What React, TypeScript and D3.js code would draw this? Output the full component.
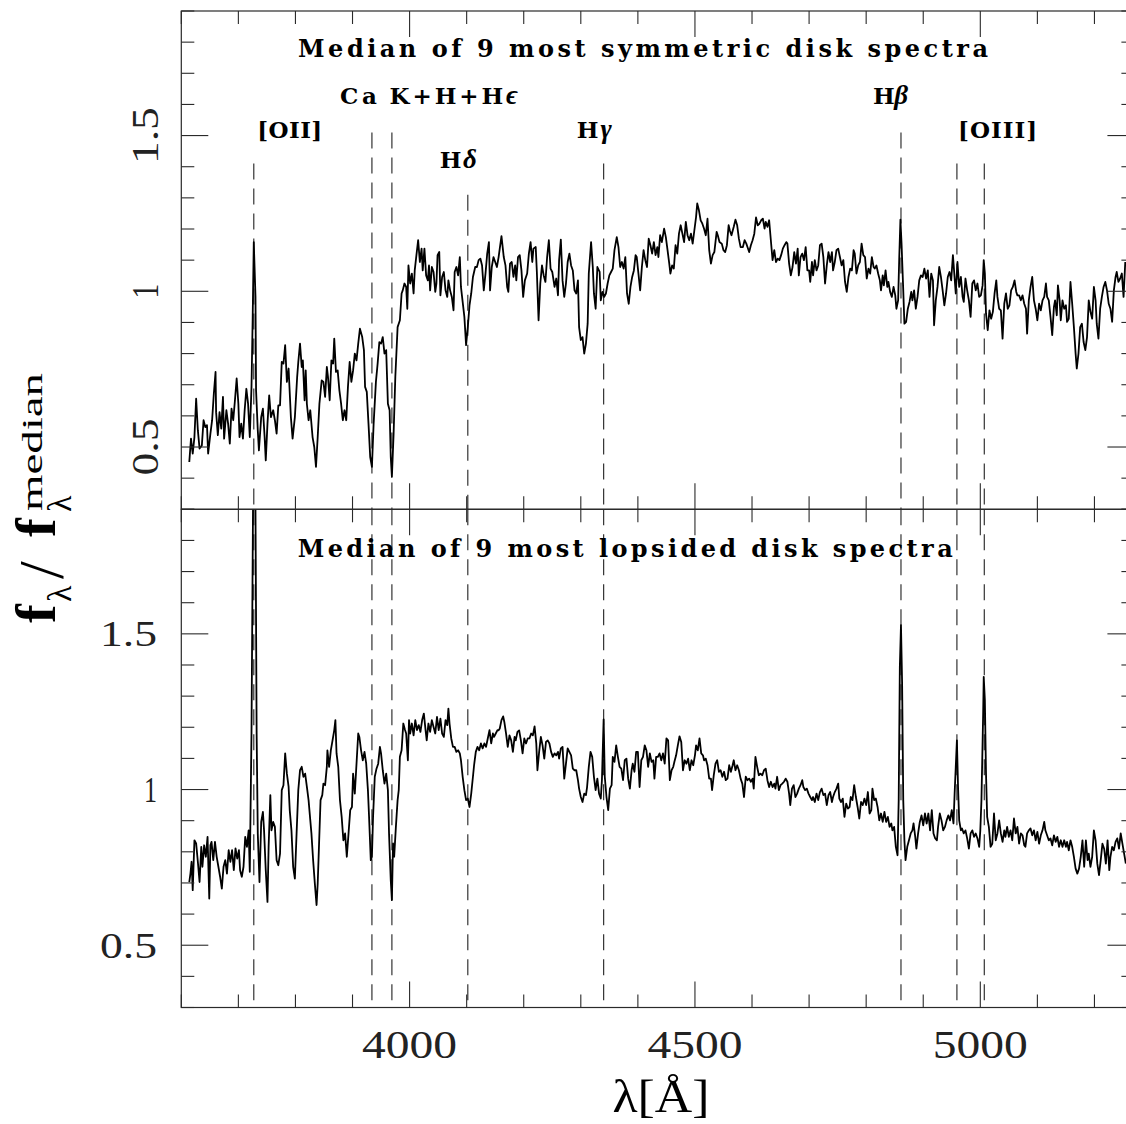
import React from 'react';
import * as d3 from 'd3';

// ---------- data (wavelength in Å, normalised flux) ----------
const symmetricSpectrum: [number, number][] = [
  [3614,0.452],[3617,0.527],[3620,0.479],[3623,0.532],[3626,0.655],[3629,0.554],[3632,0.495],[3636,0.505],
  [3639,0.586],[3642,0.564],[3645,0.570],[3647,0.479],[3651,0.543],[3654,0.586],[3657,0.671],[3660,0.741],
  [3661,0.612],[3664,0.538],[3667,0.612],[3670,0.559],[3673,0.661],[3675,0.527],[3679,0.618],[3682,0.575],
  [3685,0.511],[3688,0.623],[3691,0.586],[3694,0.650],[3697,0.720],[3700,0.639],[3702,0.532],[3705,0.575],
  [3708,0.527],[3711,0.618],[3714,0.687],[3717,0.639],[3720,0.532],[3723,0.693],[3725,0.907],[3727,1.158],
  [3730,0.982],[3731,0.682],[3734,0.554],[3736,0.489],[3740,0.596],[3743,0.623],[3746,0.532],[3748,0.457],
  [3751,0.575],[3754,0.666],[3757,0.596],[3761,0.618],[3764,0.586],[3767,0.543],[3770,0.634],[3773,0.634],
  [3776,0.773],[3779,0.768],[3782,0.827],[3785,0.709],[3788,0.752],[3792,0.596],[3795,0.527],[3799,0.596],
  [3803,0.725],[3805,0.773],[3808,0.832],[3811,0.757],[3813,0.778],[3816,0.650],[3818,0.746],[3820,0.639],
  [3823,0.586],[3826,0.618],[3830,0.532],[3833,0.500],[3836,0.436],[3839,0.532],[3842,0.639],[3846,0.714],
  [3849,0.709],[3852,0.661],[3855,0.757],[3857,0.725],[3860,0.650],[3863,0.778],[3866,0.768],[3868,0.848],
  [3871,0.741],[3874,0.746],[3877,0.682],[3880,0.639],[3883,0.586],[3886,0.618],[3889,0.586],[3892,0.693],
  [3895,0.773],[3898,0.709],[3901,0.746],[3904,0.800],[3907,0.778],[3910,0.832],[3913,0.880],[3917,0.853],
  [3920,0.811],[3922,0.693],[3925,0.677],[3928,0.575],[3931,0.468],[3934,0.436],[3937,0.575],[3941,0.709],
  [3944,0.768],[3947,0.837],[3950,0.832],[3953,0.853],[3956,0.800],[3959,0.811],[3962,0.639],[3965,0.618],
  [3967,0.468],[3969,0.404],[3972,0.543],[3975,0.725],[3979,0.885],[3983,0.907],[3986,0.993],[3988,1.003],
  [3991,1.025],[3994,1.014],[3996,0.944],[3998,1.083],[4001,1.025],[4004,1.057],[4007,0.993],[4009,1.067],
  [4012,1.116],[4015,1.164],[4018,1.094],[4021,1.137],[4023,1.067],[4026,1.137],[4029,1.051],[4032,1.035],
  [4034,1.083],[4036,1.003],[4039,1.078],[4042,1.062],[4045,0.998],[4047,1.025],[4049,1.116],[4052,1.126],
  [4054,0.987],[4057,1.046],[4060,1.062],[4063,1.003],[4066,0.982],[4068,1.035],[4071,1.003],[4074,0.982],
  [4077,0.939],[4079,1.062],[4082,1.078],[4085,1.051],[4088,1.110],[4090,1.014],[4093,0.966],[4096,0.918],
  [4099,0.827],[4102,0.885],[4105,0.955],[4108,0.993],[4111,1.046],[4115,1.078],[4118,1.078],[4121,1.100],
  [4124,1.105],[4127,1.083],[4130,1.003],[4133,1.057],[4136,1.121],[4139,1.158],[4141,1.003],[4144,1.078],
  [4147,1.110],[4150,1.094],[4153,1.078],[4156,1.110],
  [4158,1.137],[4161,1.177],[4165,1.110],[4168,1.083],[4171,1.014],[4173,0.998],[4176,1.089],[4179,1.094],
  [4182,1.046],[4185,1.083],[4187,1.035],[4190,1.110],[4193,1.116],[4196,1.067],[4199,0.982],[4202,1.035],
  [4206,1.057],[4209,1.121],[4212,1.158],[4215,1.094],[4217,1.137],[4221,1.142],[4223,1.062],[4226,0.907],
  [4229,1.025],[4232,1.083],[4235,1.051],[4238,1.030],[4241,1.110],[4244,1.164],[4247,1.073],[4250,1.062],
  [4254,1.014],[4257,1.041],[4260,0.987],[4262,1.100],[4265,1.166],[4268,1.035],[4271,0.982],[4274,1.025],
  [4277,1.094],[4280,1.121],[4283,1.083],[4286,1.067],[4289,1.003],[4292,0.993],[4295,1.035],[4297,0.885],
  [4300,0.843],[4303,0.853],[4306,0.800],[4309,0.832],[4312,0.896],[4314,1.057],[4318,1.158],[4321,1.078],
  [4323,0.993],[4326,0.944],[4329,1.078],[4333,1.062],[4335,0.971],[4338,0.998],[4341,0.982],[4344,0.993],
  [4347,1.025],[4350,1.051],[4353,1.062],[4356,1.073],[4359,1.132],[4363,1.174],[4366,1.142],[4369,1.078],
  [4372,1.094],[4375,1.073],[4378,1.110],[4381,0.993],[4384,0.960],[4387,1.014],[4390,1.046],[4393,1.067],
  [4396,1.116],[4398,1.110],[4401,1.057],[4404,1.003],[4407,1.078],[4410,1.132],[4413,1.100],[4416,1.078],
  [4419,1.169],[4422,1.148],[4425,1.121],[4428,1.158],[4431,1.116],[4434,1.142],[4436,1.110],[4439,1.180],
  [4442,1.158],[4446,1.201],[4449,1.174],[4452,1.132],[4455,1.089],[4457,1.057],[4460,1.083],[4463,1.073],
  [4466,1.148],[4469,1.121],[4472,1.185],[4475,1.212],[4478,1.185],[4481,1.158],[4484,1.223],[4487,1.180],
  [4490,1.164],[4493,1.185],[4496,1.153],[4499,1.196],[4502,1.239],[4504,1.282],[4507,1.260],[4510,1.228],
  [4513,1.217],[4516,1.201],[4519,1.180],[4522,1.233],[4525,1.132],[4528,1.089],[4531,1.116],[4534,1.126],
  [4538,1.191],[4540,1.180],[4543,1.158],[4547,1.153],[4550,1.132],[4553,1.126],[4556,1.148],[4559,1.212],
  [4561,1.196],[4564,1.180],[4568,1.207],[4571,1.230],[4574,1.212],[4577,1.169],[4580,1.142],[4584,1.142],
  [4587,1.164],[4590,1.153],[4592,1.142],[4595,1.126],[4598,1.148],[4601,1.164],[4604,1.185],[4607,1.237],
  [4610,1.212],[4613,1.217],[4616,1.228],[4619,1.233],[4622,1.201],[4624,1.223],[4627,1.207],[4630,1.228],
  [4633,1.164],[4636,1.100],[4639,1.132],[4642,1.094],[4645,1.105],[4648,1.100],[4651,1.116],[4654,1.137],
  [4657,1.148],[4660,1.158],[4662,1.153],[4665,1.089],[4668,1.051],[4671,1.078],[4674,1.126],[4677,1.089],
  [4680,1.137],[4682,1.051],[4685,1.110],[4688,1.121],[4691,1.100],[4694,1.142],[4697,1.067],[4700,1.067],
  [4702,1.030],[4705,1.094],
  [4707,1.051],[4710,1.100],[4713,1.067],[4716,1.083],[4719,1.148],[4722,1.153],[4725,1.110],[4728,1.025],
  [4731,1.083],[4734,1.126],[4737,1.094],[4740,1.126],[4742,1.067],[4745,1.094],[4748,1.132],[4751,1.137],
  [4754,1.110],[4757,1.083],[4760,1.100],[4763,1.030],[4766,0.998],[4769,1.046],[4772,1.073],[4775,1.067],
  [4778,1.132],[4780,1.121],[4783,1.057],[4786,1.083],[4789,1.094],[4792,1.153],[4795,1.116],[4798,1.110],
  [4801,1.041],[4804,1.073],[4807,1.057],[4810,1.110],[4813,1.078],[4815,1.073],[4818,1.083],[4821,1.057],
  [4824,1.035],[4826,1.003],[4829,1.051],[4831,1.019],[4834,1.067],[4837,1.014],[4839,1.030],[4842,0.998],
  [4845,0.982],[4848,1.014],[4851,0.987],[4853,0.944],[4856,0.971],[4858,1.110],[4860,1.230],[4862,1.153],
  [4865,1.003],[4867,0.896],[4870,0.902],[4873,0.944],[4876,0.966],[4879,0.998],[4881,0.971],[4884,1.003],
  [4887,0.944],[4890,0.982],[4893,1.035],[4896,1.051],[4899,1.046],[4902,1.073],[4905,1.041],[4908,1.067],
  [4911,0.982],[4914,1.057],[4917,1.035],[4919,0.891],[4922,0.971],[4925,1.014],[4928,1.078],[4931,1.046],
  [4934,1.003],[4937,0.955],[4940,0.993],[4943,1.046],[4946,1.062],[4949,1.035],[4952,1.116],[4954,1.067],
  [4957,0.993],[4960,1.094],[4963,1.014],[4966,1.046],[4969,0.982],[4971,0.966],[4974,1.041],[4977,1.003],
  [4980,0.971],[4983,0.918],[4986,1.025],[4989,1.035],[4992,1.003],[4995,1.025],[4998,0.982],[5001,0.987],
  [5004,1.019],[5006,1.100],[5008,1.057],[5010,0.928],[5013,0.875],[5016,0.939],[5019,0.912],[5022,0.934],
  [5025,0.993],[5028,1.035],[5030,0.982],[5033,0.944],[5036,0.939],[5039,0.848],[5042,0.960],[5045,0.993],
  [5048,0.944],[5051,0.955],[5054,1.003],[5057,1.014],[5060,1.035],[5063,0.998],[5065,0.987],[5068,0.987],
  [5071,0.971],[5074,0.987],[5077,0.960],[5080,0.944],[5082,0.864],[5085,0.971],[5088,1.014],[5091,1.046],
  [5094,0.971],[5097,0.944],[5100,0.907],[5103,0.960],[5106,0.939],[5109,0.971],[5112,0.982],[5115,1.025],
  [5117,0.982],[5120,0.971],[5123,0.918],[5126,0.859],[5129,0.950],[5131,0.971],[5134,0.923],[5136,1.019],
  [5139,0.971],[5141,0.907],[5144,0.971],[5147,0.944],[5150,0.955],[5152,0.902],[5155,0.912],[5158,1.030],
  [5161,0.960],[5164,0.885],[5167,0.800],[5169,0.752],[5172,0.800],[5175,0.885],[5178,0.896],[5181,0.837],
  [5184,0.811],[5187,0.853],[5190,0.971],[5193,0.934],[5196,0.912],[5199,1.014],[5202,0.971],[5204,0.896],
  [5207,0.848],[5210,0.944],[5213,0.982],[5216,1.014],[5219,1.030],[5222,1.003],[5225,0.960],[5228,0.944],
  [5231,0.902],[5234,1.003],[5237,1.046],[5239,1.062],[5242,1.030],[5245,1.041],[5248,1.057],[5251,0.982],
  [5254,1.094],
];

const lopsidedSpectrum: [number, number][] = [
  [3614,0.703],[3616,0.730],[3618,0.768],[3620,0.677],[3623,0.837],[3626,0.827],[3629,0.768],[3632,0.703],
  [3635,0.816],[3637,0.752],[3640,0.821],[3643,0.784],[3646,0.848],[3649,0.650],[3651,0.821],[3653,0.832],
  [3656,0.773],[3659,0.832],[3662,0.784],[3665,0.752],[3668,0.720],[3671,0.682],[3674,0.752],[3677,0.773],
  [3680,0.730],[3683,0.805],[3686,0.768],[3689,0.805],[3692,0.741],[3695,0.811],[3698,0.778],[3701,0.805],
  [3703,0.741],[3706,0.720],[3709,0.752],[3712,0.848],[3715,0.816],[3718,0.869],[3720,0.736],[3723,1.180],
  [3726,2.000],[3728,2.300],[3730,1.897],[3732,1.180],[3734,0.859],[3737,0.703],[3740,0.896],[3743,0.928],
  [3745,0.869],[3748,0.741],[3751,0.639],[3753,0.816],[3756,0.982],[3758,0.869],[3761,0.896],[3764,0.880],
  [3767,0.773],[3770,0.757],[3773,0.794],[3776,0.998],[3779,1.014],[3782,1.116],[3785,1.051],[3788,1.009],
  [3790,0.934],[3793,0.869],[3796,0.752],[3799,0.714],[3802,0.859],[3805,0.998],[3808,1.062],[3811,1.073],
  [3814,1.041],[3817,1.051],[3820,1.009],[3823,0.966],[3826,0.902],[3828,0.859],[3831,0.773],[3834,0.698],
  [3837,0.629],[3839,0.698],[3841,0.805],[3844,0.966],[3847,0.982],[3849,1.019],[3852,1.014],[3855,1.073],
  [3856,1.126],[3859,1.073],[3862,1.126],[3865,1.158],[3868,1.191],[3870,1.223],[3872,1.116],[3875,1.073],
  [3878,0.966],[3881,0.912],[3884,0.837],[3887,0.859],[3890,0.784],[3893,0.859],[3896,0.934],[3899,0.944],
  [3901,1.051],[3904,0.987],[3907,1.083],[3910,1.180],[3912,1.169],[3915,1.126],[3918,1.094],[3921,1.121],
  [3924,1.083],[3927,0.998],[3929,0.912],[3932,0.773],[3934,0.784],[3936,0.912],[3939,1.041],[3942,1.067],
  [3945,1.083],[3948,1.137],[3950,1.116],[3953,1.062],[3956,1.019],[3959,1.051],[3962,0.998],[3964,0.859],
  [3967,0.709],[3969,0.645],[3971,0.827],[3973,0.784],[3976,0.880],[3979,0.966],[3981,0.998],[3983,1.105],
  [3986,1.126],[3989,1.212],[3992,1.191],[3994,1.180],[3997,1.094],[3999,1.223],[4001,1.180],[4004,1.212],
  [4007,1.174],[4010,1.223],[4013,1.191],[4016,1.207],[4019,1.185],[4022,1.223],[4025,1.244],[4028,1.191],
  [4030,1.158],[4033,1.212],[4036,1.185],[4039,1.223],[4042,1.201],[4045,1.180],[4048,1.233],[4051,1.191],
  [4054,1.228],[4057,1.180],[4060,1.169],[4063,1.223],[4066,1.207],[4068,1.260],[4070,1.212],[4073,1.164],
  [4076,1.137],[4079,1.137],[4082,1.121],[4085,1.126],[4088,1.116],[4090,1.094],[4093,1.041],[4096,0.998],
  [4099,0.966],[4102,0.971],[4105,0.944],[4108,0.987],[4111,1.041],[4113,1.078],[4116,1.121],[4119,1.137],
  [4122,1.126],[4125,1.148],[4128,1.132],[4131,1.148],[4134,1.137],[4137,1.164],[4140,1.191],[4143,1.148],
  [4146,1.180],[4148,1.169],[4151,1.180],[4154,1.191],
  [4156,1.190],[4158,1.196],[4161,1.223],[4164,1.235],[4166,1.217],[4169,1.180],[4172,1.137],[4175,1.174],
  [4178,1.158],[4181,1.121],[4184,1.169],[4186,1.158],[4189,1.185],[4192,1.190],[4195,1.158],[4198,1.116],
  [4201,1.164],[4204,1.148],[4207,1.164],[4210,1.164],[4213,1.180],[4216,1.174],[4219,1.203],[4222,1.148],
  [4224,1.062],[4227,1.121],[4230,1.169],[4233,1.142],[4236,1.099],[4239,1.153],[4242,1.158],[4245,1.148],
  [4248,1.121],[4251,1.105],[4254,1.116],[4257,1.110],[4260,1.121],[4262,1.099],[4265,1.132],[4268,1.137],
  [4271,1.035],[4274,1.083],[4277,1.132],[4280,1.121],[4283,1.110],[4286,1.067],[4289,1.062],[4292,1.062],
  [4295,1.030],[4297,1.003],[4300,0.976],[4303,0.960],[4306,0.987],[4309,0.982],[4311,1.008],[4314,1.073],
  [4317,1.121],[4320,1.105],[4323,1.041],[4326,0.998],[4329,1.035],[4332,0.987],[4335,0.971],[4337,1.030],
  [4340,1.225],[4342,1.041],[4345,0.976],[4348,0.934],[4351,1.003],[4354,1.014],[4356,1.105],[4359,1.089],
  [4362,1.142],[4365,1.105],[4368,1.073],[4371,1.067],[4374,1.030],[4377,1.094],[4380,1.099],[4383,1.035],
  [4386,1.003],[4389,1.062],[4391,1.083],[4394,1.057],[4397,1.121],[4400,1.121],[4403,1.008],[4406,1.094],
  [4409,1.105],[4412,1.142],[4415,1.126],[4418,1.073],[4421,1.116],[4424,1.089],[4427,1.094],[4429,1.035],
  [4432,1.105],[4435,1.105],[4438,1.116],[4441,1.094],[4444,1.116],[4447,1.083],[4450,1.164],[4453,1.158],
  [4456,1.030],[4459,1.062],[4462,1.073],[4464,1.089],[4467,1.110],[4470,1.142],[4473,1.171],[4476,1.153],
  [4479,1.062],[4482,1.094],[4485,1.083],[4488,1.099],[4491,1.062],[4494,1.094],[4497,1.078],[4500,1.110],
  [4502,1.142],[4505,1.126],[4508,1.164],[4511,1.116],[4514,1.110],[4516,1.094],[4519,1.099],[4522,1.078],
  [4525,1.035],[4528,1.035],[4530,0.998],[4533,1.046],[4536,1.083],[4539,1.094],[4542,1.057],[4545,1.062],
  [4548,1.041],[4551,1.057],[4554,1.030],[4557,1.035],[4560,1.078],[4563,1.057],[4566,1.078],[4568,1.094],
  [4571,1.062],[4574,1.078],[4577,1.062],[4580,1.035],[4583,1.019],[4586,0.976],[4589,1.041],[4592,1.030],
  [4595,1.035],[4598,1.025],[4601,1.035],[4603,1.003],[4606,1.105],[4609,1.073],[4612,1.046],[4615,1.051],
  [4618,1.046],[4621,1.062],[4624,1.067],[4627,1.030],[4630,1.008],[4633,1.025],[4636,1.008],[4639,1.019],
  [4641,1.003],[4644,1.041],[4647,0.998],[4650,1.014],[4653,1.019],[4656,1.025],[4659,1.035],[4662,1.025],
  [4665,0.987],[4667,0.950],[4670,1.003],[4673,1.014],[4676,0.976],[4679,0.987],[4682,1.003],[4685,1.014],
  [4688,1.030],[4690,1.008],[4693,0.998],[4696,1.003],[4699,0.987],[4702,0.976],[4705,0.966],
  [4707,0.976],[4710,0.960],[4713,0.987],[4716,0.966],[4719,0.992],[4722,1.003],[4725,0.982],[4728,0.987],
  [4731,0.950],[4734,0.982],[4737,0.992],[4740,0.960],[4742,0.976],[4745,0.992],[4748,1.003],[4751,1.019],
  [4753,0.971],[4756,0.960],[4759,0.971],[4762,0.912],[4765,0.955],[4768,0.939],[4771,0.944],[4773,0.976],
  [4776,0.966],[4779,1.014],[4782,0.976],[4785,0.944],[4788,0.907],[4791,0.960],[4794,0.950],[4797,0.971],
  [4800,0.950],[4803,0.992],[4806,0.923],[4809,0.934],[4811,1.003],[4814,0.966],[4817,0.971],[4820,0.944],
  [4823,0.901],[4826,0.923],[4829,0.896],[4832,0.928],[4835,0.896],[4838,0.912],[4841,0.880],[4844,0.891],
  [4846,0.869],[4849,0.880],[4852,0.816],[4855,0.789],[4857,0.966],[4859,1.394],[4861,1.528],[4863,1.340],
  [4865,0.966],[4867,0.837],[4869,0.773],[4872,0.816],[4875,0.837],[4878,0.859],[4881,0.869],[4883,0.891],
  [4886,0.848],[4888,0.810],[4891,0.859],[4894,0.896],[4897,0.917],[4900,0.885],[4903,0.923],[4906,0.891],
  [4909,0.923],[4912,0.869],[4915,0.934],[4918,0.859],[4921,0.843],[4924,0.837],[4926,0.880],[4929,0.923],
  [4932,0.901],[4935,0.869],[4938,0.880],[4941,0.901],[4944,0.917],[4947,0.901],[4950,0.934],[4953,0.891],
  [4955,0.987],[4957,1.073],[4959,1.158],[4961,1.008],[4963,0.901],[4966,0.869],[4968,0.875],[4971,0.859],
  [4974,0.869],[4977,0.843],[4980,0.810],[4983,0.859],[4986,0.869],[4989,0.848],[4992,0.859],[4995,0.843],
  [4998,0.816],[5000,0.869],[5002,0.966],[5005,1.244],[5006,1.362],[5008,1.287],[5010,1.051],[5012,0.912],
  [5015,0.880],[5018,0.816],[5021,0.826],[5024,0.923],[5027,0.837],[5030,0.859],[5033,0.901],[5036,0.859],
  [5039,0.832],[5042,0.869],[5044,0.848],[5047,0.880],[5050,0.848],[5053,0.869],[5056,0.837],[5059,0.907],
  [5062,0.859],[5065,0.880],[5068,0.826],[5071,0.859],[5074,0.853],[5077,0.821],[5079,0.816],[5082,0.859],
  [5085,0.869],[5088,0.875],[5091,0.853],[5094,0.869],[5097,0.837],[5100,0.864],[5103,0.826],[5106,0.853],
  [5109,0.869],[5112,0.896],[5114,0.869],[5117,0.853],[5120,0.837],[5123,0.843],[5126,0.821],[5129,0.853],
  [5132,0.832],[5135,0.848],[5138,0.816],[5141,0.837],[5144,0.816],[5147,0.837],[5150,0.816],[5152,0.832],
  [5155,0.805],[5158,0.837],[5161,0.816],[5164,0.784],[5167,0.746],[5170,0.730],[5173,0.746],[5176,0.784],
  [5179,0.837],[5182,0.752],[5185,0.837],[5188,0.773],[5190,0.794],[5193,0.752],[5196,0.784],[5199,0.869],
  [5202,0.837],[5205,0.762],[5208,0.725],[5211,0.773],[5214,0.826],[5217,0.810],[5220,0.762],[5223,0.837],
  [5226,0.741],[5228,0.784],[5231,0.816],[5234,0.805],[5237,0.832],[5240,0.843],[5243,0.810],[5246,0.859],
  [5249,0.826],[5252,0.794],[5255,0.762],
];

// emission / absorption line rest wavelengths
const lineWavelengths = [3727, 3934, 3969, 4102, 4340, 4861, 4959, 5007];
// flux level where each marker starts in the upper panel (below its label)
const lineStartFlux = [1.41, 1.51, 1.51, 1.31, 1.41, 1.51, 1.41, 1.41];

const panelTitles = [
  'Median of 9 most symmetric disk spectra',
  'Median of 9 most lopsided disk spectra',
];

const xTickLabels = [4000, 4500, 5000];
const yTickLabels = [0.5, 1, 1.5];

// label annotations: text, greek suffix, left wavelength, baseline flux
const lineLabelText = ['[OII]', 'Ca', 'K+H+H', 'H', 'H', 'H', '[OIII]'];
const lineLabelGreek = ['', '', 'ϵ', 'δ', 'γ', 'β', ''];
const lineLabelWave = [3733, 3878, 3965, 4053, 4293, 4812, 4961];
const lineLabelFlux = [1.492, 1.601, 1.601, 1.396, 1.492, 1.601, 1.492];

export default function App() {
  const W = 1126, H = 1124;
  const left = 181.3, right = 1134.4;
  const panels = [
    { top: 11, bottom: 509.3, data: symmetricSpectrum },
    { top: 509.3, bottom: 1007.5, data: lopsidedSpectrum },
  ];
  const x = d3.scaleLinear().domain([3600, 5270]).range([left, right]);
  const xTicks = d3.range(3600, 5271, 100);
  const yTicks = d3.range(3, 20).map((v) => v / 10);
  const axisColor = '#2a2a2a';
  const labelWidths = [65, 37, 128, 37, 35, 35, 79];
  const titleLeft = [298, 297.7];
  const titleWidth = [690, 655];
  const titleBase = [57, 556.5];
  const labelFont = "'DejaVu Serif', serif";

  return (
    <svg width={W} height={H} style={{ position: 'absolute', left: 0, top: 0, background: '#fff' }}>
      <rect x={0} y={0} width={W} height={H} fill="#fff" />
      <defs>
        {panels.map((p, i) => (
          <clipPath id={`clip${i}`} key={i}>
            <rect x={left} y={p.top} width={right - left} height={p.bottom - p.top} />
          </clipPath>
        ))}
      </defs>
      {panels.map((p, i) => {
        const y = d3.scaleLinear().domain([0.3, 1.9]).range([p.bottom, p.top]);
        const line = d3.line<[number, number]>().x((d) => x(d[0])).y((d) => y(d[1]));
        return (
          <g key={i}>
            {/* dashed line markers */}
            {lineWavelengths.map((w, j) => (
              <line key={j} x1={x(w)} x2={x(w)} y1={i === 0 ? y(lineStartFlux[j]) : p.top} y2={p.bottom}
                stroke="#333" strokeWidth={1.2} strokeDasharray="16 9" />
            ))}
            <path d={line(p.data) || ''} fill="none" stroke="#000" strokeWidth={1.8}
              strokeLinejoin="round" clipPath={`url(#clip${i})`} />
            {/* frame */}
            <rect x={left} y={p.top} width={right - left} height={p.bottom - p.top} fill="none"
              stroke={axisColor} strokeWidth={1.2} />
            {/* x ticks */}
            {xTicks.map((t) => {
              const len = t % 500 === 0 ? 26 : 13;
              return (
                <g key={t}>
                  <line x1={x(t)} x2={x(t)} y1={p.top} y2={p.top + len} stroke={axisColor} strokeWidth={1.1} />
                  <line x1={x(t)} x2={x(t)} y1={p.bottom} y2={p.bottom - len} stroke={axisColor} strokeWidth={1.1} />
                </g>
              );
            })}
            {/* y ticks */}
            {yTicks.map((t) => {
              const major = Math.abs(t * 2 - Math.round(t * 2)) < 1e-6;
              const len = major ? 27 : 13;
              return (
                <g key={t}>
                  <line x1={left} x2={left + len} y1={y(t)} y2={y(t)} stroke={axisColor} strokeWidth={1.1} />
                  <line x1={right} x2={right - len} y1={y(t)} y2={y(t)} stroke={axisColor} strokeWidth={1.1} />
                </g>
              );
            })}
            {/* y tick labels */}
            {yTickLabels.map((t) => {
              const s = String(t);
              const wd = s.length === 1 ? 15 : 57;
              return i === 0 ? (
                <text key={t} transform={`translate(158,${y(t)}) rotate(-90)`} textAnchor="middle"
                  fontFamily="'Liberation Serif', serif" fontSize={37} fill="#222"
                  textLength={wd} lengthAdjust="spacingAndGlyphs">{s}</text>
              ) : (
                <text key={t} x={157} y={y(t) + 12.5} textAnchor="end"
                  fontFamily="'Liberation Serif', serif" fontSize={36} fill="#222"
                  textLength={s.length === 1 ? 13 : 57} lengthAdjust="spacingAndGlyphs">{s}</text>
              );
            })}
            {/* panel title */}
            <text x={titleLeft[i]} y={titleBase[i]} fontFamily={labelFont} fontWeight="bold"
              fontSize={24} fill="#000" textLength={titleWidth[i]} lengthAdjust="spacing">{panelTitles[i]}</text>
            {i === 0 &&
              lineLabelText.map((t, j) => (
                <text key={j} x={x(lineLabelWave[j])} y={y(lineLabelFlux[j])} fontFamily={labelFont}
                  fontWeight="bold" fontSize={23} fill="#000" textLength={labelWidths[j]} lengthAdjust="spacing">
                  {t}
                  {lineLabelGreek[j] && (
                    <tspan fontStyle="italic" fontFamily="'Liberation Serif', serif" fontSize={27}>{lineLabelGreek[j]}</tspan>
                  )}
                </text>
              ))}
          </g>
        );
      })}
      {/* x tick labels */}
      {xTickLabels.map((t) => (
        <text key={t} x={x(t)} y={1058} textAnchor="middle" fontFamily="'Liberation Serif', serif"
          fontSize={40} fill="#222" textLength={95} lengthAdjust="spacingAndGlyphs">{t}</text>
      ))}
      {/* x axis label */}
      <text x={661} y={1112} textAnchor="middle" fontFamily="'Liberation Serif', serif" fontSize={46}
        fill="#000" textLength={97} lengthAdjust="spacingAndGlyphs">λ[Å]</text>
      {/* y axis label */}
      <g transform="translate(55,623) rotate(-90)" fontFamily="'Liberation Serif', serif" fill="#000">
        <text x={0} y={0} fontSize={56} fontWeight="bold">f</text>
        <text x={21} y={16} fontSize={34}>λ</text>
        <text x={44} y={8} fontSize={64}>/</text>
        <text x={86} y={0} fontSize={56} fontWeight="bold">f</text>
        <text x={111} y={16} fontSize={34}>λ</text>
        <text x={112} y={-13} fontSize={30} textLength={138} lengthAdjust="spacingAndGlyphs">median</text>
      </g>
    </svg>
  );
}
